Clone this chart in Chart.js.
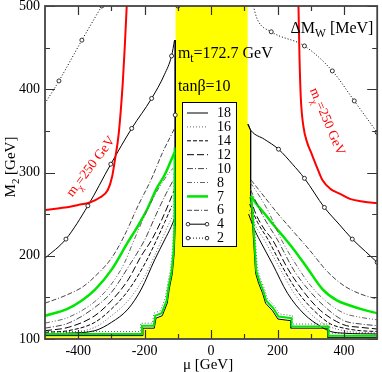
<!DOCTYPE html>
<html><head><meta charset="utf-8">
<script src="https://cdn.jsdelivr.net/npm/chart.js@4/dist/chart.umd.min.js"></script>
<style>html,body{margin:0;padding:0;background:#fff}canvas{display:block}</style>
</head><body>
<canvas id="c" width="382" height="372"></canvas>
<script>
// ---- tick values ----
const xMajor = [-400, -200, 0, 200, 400];
const xMinor = [-300, -100, 100, 300];
const yMajor = [100, 200, 300, 400, 500];
const yMinor = [150, 250, 350, 450];

// ---- excluded (yellow) region upper boundary [mu, M2] ----
const excluded = [[-500,103],[-205,103],[-205,113],[-170,113],[-165,125],[-146,128],[-131,143],[-125,160],[-116,178],[-110,203],[-107,236],[-107,500],[110,500],[110,360],[117,350],[118,270],[124,236],[133,179],[142,167],[154,155],[163,143],[184,134],[200,124],[239,122],[239,112],[350,112],[350,101],[500,101]];
// contour pieces hugging the excluded region
const edgeLeft = [[-500,106],[-208,106],[-208,116],[-173,116],[-168,128],[-149,131],[-134,146],[-128,163],[-119,181],[-113,206],[-110,239],[-110,330]];
const edgeRight = [[121,272],[127,239],[136,182],[145,170],[157,158],[166,146],[187,137],[203,127],[242,125],[242,115],[353,115],[353,104],[500,104]];
const edgeLeftOuter = [[-500,109],[-212,109],[-212,119],[-177,119],[-172,131],[-153,134],[-138,149],[-131,166],[-122,184],[-116,209],[-112,242],[-112,300]];
const edgeRightOuter = [[124,262],[130,239],[139,185],[148,173],[160,161],[169,149],[190,140],[206,130],[245,128],[245,118],[356,118],[356,107],[500,107]];
const edgeBlackLeft = [[-108,459],[-108,236],[-111,203],[-117,178],[-126,160],[-132,143],[-147,128],[-166,125],[-171,113],[-206,113],[-206,104],[-500,104]];
const edgeBlackRight = [[112,358],[119,350],[119,270],[125,236],[134,179],[143,167],[155,155],[164,143],[185,134],[201,124],[240,122],[240,113],[351,113],[351,102],[500,102]];

// ---- Delta M_W contours [mu, M2] ----
const c18L = [[-500,106],[-430,107],[-350,110],[-300,120],[-250,136],[-210,160],[-170,195],[-140,219],[-120,235],[-110,245]];
const c18R = [[113,250],[130,232],[146,219],[185,190],[230,155],[280,130],[330,115],[360,109],[400,107],[500,106]];
const c16L = [[-500,107],[-430,108],[-350,114],[-300,128],[-250,146],[-200,175],[-170,200],[-149,219],[-125,240],[-112,250]];
const c16R = [[115,255],[135,235],[160,219],[200,190],[250,155],[300,130],[350,116],[400,110],[450,108],[500,107]];
const c14L = [[-500,108],[-430,110],[-350,120],[-300,136],[-250,158],[-200,190],[-164,219],[-140,240],[-118,260]];
const c14R = [[116,262],[140,240],[172,219],[210,190],[260,157],[310,134],[360,118],[400,113],[450,110],[500,109]];
const c12L = [[-500,110],[-430,114],[-350,128],[-300,146],[-250,171],[-210,200],[-179,219],[-150,242],[-125,265],[-112,278]];
const c12R = [[117,270],[135,250],[160,232],[185,219],[230,185],[280,156],[330,134],[400,117],[450,114],[500,112]];
const c10L = [[-500,113],[-430,119],[-350,138],[-300,156],[-250,186],[-200,219],[-165,250],[-135,275],[-115,290]];
const c10R = [[118,280],[135,265],[160,245],[200,219],[250,182],[300,156],[350,136],[400,122],[450,118],[500,116]];
const c8L = [[-500,119],[-430,126],[-350,145],[-300,166],[-260,192],[-236,215],[-200,248],[-165,276],[-135,295],[-115,305]];
const c8R = [[118,288],[140,275],[170,255],[212,219],[250,193],[300,164],[350,144],[400,131],[450,126],[500,123]];
const c7L = [[-500,128],[-434,136],[-390,146],[-350,159],[-300,183],[-251,216],[-220,236],[-191,257],[-165,280],[-140,297],[-120,315],[-110,324]];
const c7R = [[120,272],[135,263],[160,251],[190,236],[226,219],[250,207],[290,185],[335,160],[380,146],[420,140],[460,135],[500,131]];
const c6L = [[-500,143],[-434,153],[-385,163],[-350,175],[-300,197],[-260,225],[-220,260],[-180,292],[-145,325],[-120,345],[-110,353]];
const c6R = [[120,291],[150,276],[200,251],[250,228],[296,207],[350,181],[400,164],[450,154],[500,148]];
const c4L = [[-500,197],[-437,220],[-371,260],[-302,310],[-239,353],[-179,389],[-140,418],[-119,440],[-110,459]];
const c4R = [[110,358],[121,350],[160,340],[203,328],[245,310],[281,293],[341,258],[385,238],[425,220],[465,205],[500,192]];
const c2L = [[-500,383],[-458,410],[-389,459],[-329,500]];
const c2R = [[127,500],[139,484],[181,469],[281,452],[365,422],[431,386],[500,348]];
const marks4 = [[-437,220],[-371,260],[-302,310],[-239,353],[-179,389],[-119,440],[-108,369],[203,328],[281,293],[341,258],[425,220],[500,192]];
const marks2 = [[-458,410],[-389,459],[-329,500],[-100,500],[181,469],[281,452],[365,422],[431,386],[500,348]];

// ---- chargino mass 250 GeV contour ----
const mchiL = [[-500,255],[-440,258],[-400,261],[-365,264],[-335,270],[-311,279],[-298,295],[-290,314],[-278,347],[-266,407],[-260,450],[-254,500]];
const mchiR = [[263,500],[266,440],[270,390],[278,355],[290,335],[300,325],[320,305],[335,291],[360,280],[385,275],[420,268],[460,265],[500,263]];

const legendLabels = ['18','16','14','12','10','8','7','6','4','2'];

const FONT = "'Liberation Serif','Times New Roman',serif";
const styles = {
  '18': {color:'#000', width:1, dash:[]},
  '16': {color:'#666', width:1, dash:[1,2]},
  '14': {color:'#000', width:1, dash:[4,2]},
  '12': {color:'#000', width:1, dash:[7,3]},
  '10': {color:'#444', width:1, dash:[6,2,1,2]},
  '8':  {color:'#666', width:1, dash:[5,2,1,2,1,2]},
  '7':  {color:'#00e600', width:2.5, dash:[]},
  '6':  {color:'#444', width:1, dash:[5,2,5,2,1,2]},
  '4':  {color:'#000', width:1, dash:[], mark:true},
  '2':  {color:'#000', width:1, dash:[1,2], mark:true}
};

const pts = a => a.map(p => ({x:p[0], y:p[1]}));
const join = (...parts) => { const out=[]; parts.forEach((p,i)=>{ if(i) out.push({x:0,y:null}); out.push(...pts(p)); }); return out; };

function lineDS(key, data, extra) {
  const s = styles[key];
  return Object.assign({label:key, data, borderColor:s.color, borderWidth:s.width, borderDash:s.dash,
    pointRadius:0, showLine:true, fill:false, cubicInterpolationMode:'monotone', order:1}, extra||{});
}

const datasets = [
  {label:'excluded', data:pts(excluded), borderWidth:0, borderColor:'rgba(0,0,0,0)', backgroundColor:'#ffff00', fill:'start', pointRadius:0, showLine:true, tension:0, order:10},
  lineDS('16', join(edgeLeftOuter, edgeRightOuter), {cubicInterpolationMode:'default', tension:0, order:2}),
  lineDS('18', join(edgeBlackLeft, edgeBlackRight), {cubicInterpolationMode:'default', tension:0, order:2}),
  lineDS('7', join(edgeLeft, edgeRight), {cubicInterpolationMode:'default', tension:0, borderWidth:2, order:1}),
  lineDS('18', join(c18L, c18R)),
  lineDS('16', join(c16L, c16R)),
  lineDS('14', join(c14L, c14R)),
  lineDS('12', join(c12L, c12R)),
  lineDS('10', join(c10L, c10R)),
  lineDS('8', join(c8L, c8R)),
  lineDS('7', join(c7L, c7R)),
  lineDS('6', join(c6L, c6R)),
  lineDS('4', join(c4L, c4R)),
  lineDS('2', join(c2L, c2R)),
  {label:'m4', data:pts(marks4), showLine:false, pointRadius:2, pointBorderWidth:0.8, pointBorderColor:'#000', pointBackgroundColor:'#fff', order:0},
  {label:'m2', data:pts(marks2), showLine:false, pointRadius:2, pointBorderWidth:0.8, pointBorderColor:'#000', pointBackgroundColor:'#fff', order:0},
  {label:'mchi', data:join(mchiL, mchiR), borderColor:'#ff0000', borderWidth:2, pointRadius:0, showLine:true, fill:false, cubicInterpolationMode:'monotone', order:0}
];

function drawSub(ctx, x, y, main, sub, rest, size) {
  ctx.font = size + 'px ' + FONT;
  ctx.fillText(main, x, y); x += ctx.measureText(main).width;
  ctx.font = (size*0.72) + 'px ' + FONT;
  ctx.fillText(sub, x, y + size*0.28); x += ctx.measureText(sub).width;
  ctx.font = size + 'px ' + FONT;
  ctx.fillText(rest, x, y); x += ctx.measureText(rest).width;
  return x;
}
function subWidth(ctx, main, sub, rest, size) {
  ctx.font = size + 'px ' + FONT; let w = ctx.measureText(main).width + ctx.measureText(rest).width;
  ctx.font = (size*0.72) + 'px ' + FONT; w += ctx.measureText(sub).width; return w;
}

const decor = {
  id:'decor',
  afterDatasetsDraw(chart) {
    const ctx = chart.ctx, xs = chart.scales.x, ys = chart.scales.y;
    ctx.save();
    // red labels
    ctx.fillStyle = '#ff0000'; ctx.textBaseline = 'alphabetic'; ctx.textAlign = 'left';
    ctx.save(); ctx.translate(xs.getPixelForValue(-418), ys.getPixelForValue(270)); ctx.rotate(-53*Math.PI/180);
    drawSub(ctx, 0, 0, 'm', 'χ', '=250 GeV', 13.5); ctx.restore();
    ctx.save(); ctx.translate(xs.getPixelForValue(297), ys.getPixelForValue(399)); ctx.rotate(67*Math.PI/180);
    drawSub(ctx, 0, 0, 'm', 'χ', '=250 GeV', 13.5); ctx.restore();
    // annotations
    ctx.fillStyle = '#000';
    drawSub(ctx, xs.getPixelForValue(-100), ys.getPixelForValue(438), 'm', 't', '=172.7 GeV', 16);
    ctx.font = '16px ' + FONT; ctx.fillText('tanβ=10', xs.getPixelForValue(-100), ys.getPixelForValue(398));
    drawSub(ctx, xs.getPixelForValue(239), ys.getPixelForValue(468), 'ΔM', 'W', ' [MeV]', 16);

    // legend box
    const lx = 182, ly = 102, lw = 54, lh = 144;
    ctx.fillStyle = '#fff'; ctx.fillRect(lx, ly, lw, lh);
    ctx.strokeStyle = '#000'; ctx.lineWidth = 1; ctx.strokeRect(lx+0.5, ly+0.5, lw, lh);
    legendLabels.forEach((k, i) => {
      const s = styles[k], y = ly + 11 + i*13.9;
      ctx.strokeStyle = s.color; ctx.lineWidth = s.width; ctx.setLineDash(s.dash);
      ctx.beginPath(); ctx.moveTo(lx+5, y); ctx.lineTo(lx+26, y); ctx.stroke(); ctx.setLineDash([]);
      if (s.mark) { [lx+6, lx+25].forEach(cx => { ctx.beginPath(); ctx.arc(cx, y, 1.8, 0, 2*Math.PI); ctx.fillStyle='#fff'; ctx.fill(); ctx.lineWidth=0.8; ctx.strokeStyle='#000'; ctx.stroke(); }); }
      ctx.fillStyle = '#000'; ctx.font = '14px ' + FONT; ctx.textBaseline = 'middle';
      ctx.fillText(k, lx+35, y+0.5);
    });
    ctx.restore();
  },
  afterDraw(chart) {
    const ctx = chart.ctx, xs = chart.scales.x, ys = chart.scales.y, a = chart.chartArea;
    ctx.save();
    ctx.strokeStyle = '#333'; ctx.lineWidth = 1.2; ctx.setLineDash([]);
    ctx.beginPath();
    const tick = (vals, len, isX) => vals.forEach(v => {
      if (isX) { const px = Math.round(xs.getPixelForValue(v))+0.5;
        ctx.moveTo(px, a.bottom); ctx.lineTo(px, a.bottom-len); ctx.moveTo(px, a.top); ctx.lineTo(px, a.top+len); }
      else { const py = Math.round(ys.getPixelForValue(v))+0.5;
        ctx.moveTo(a.left, py); ctx.lineTo(a.left+len, py); ctx.moveTo(a.right, py); ctx.lineTo(a.right-len, py); }
    });
    tick(xMajor, 9, true); tick(xMinor, 5, true); tick(yMajor, 10, false); tick(yMinor, 5, false);
    ctx.stroke();
    ctx.lineWidth = 1.8; ctx.strokeStyle = '#444';
    ctx.strokeRect(a.left, a.top, a.right-a.left, a.bottom-a.top);
    // axis titles
    ctx.fillStyle = '#000'; ctx.textBaseline = 'alphabetic'; ctx.textAlign = 'left';
    ctx.font = '15px ' + FONT;
    const t = 'μ [GeV]'; const tw = ctx.measureText(t).width;
    ctx.fillText(t, (a.left+a.right)/2 - tw/2 - 3, 369);
    ctx.save(); ctx.translate(15, 0); ctx.rotate(-Math.PI/2);
    const w2 = subWidth(ctx, 'M', '2', ' [GeV]', 15);
    drawSub(ctx, -167 - w2/2, 0, 'M', '2', ' [GeV]', 15);
    ctx.restore();
    ctx.restore();
  }
};

new Chart(document.getElementById('c'), {
  type: 'scatter',
  data: {datasets},
  options: {
    responsive:false, animation:false, devicePixelRatio:1,
    layout:{padding:{top:6, right:4, left:0, bottom:0}},
    plugins:{legend:{display:false}, tooltip:{enabled:false}},
    scales:{
      x:{type:'linear', min:-500, max:500,
        afterBuildTicks:s=>{s.ticks = xMajor.map(v=>({value:v}));},
        afterFit:s=>{s.height = 33; s.paddingLeft = 0; s.paddingRight = 0;},
        grid:{display:false, drawTicks:false}, border:{display:false},
        ticks:{color:'#000', font:{family:FONT, size:14}, padding:4, maxRotation:0, autoSkip:false}},
      y:{type:'linear', min:100, max:500,
        afterBuildTicks:s=>{s.ticks = yMajor.map(v=>({value:v}));},
        afterFit:s=>{s.width = 45; s.paddingTop = 0; s.paddingBottom = 0;},
        grid:{display:false, drawTicks:false}, border:{display:false},
        ticks:{color:'#000', font:{family:FONT, size:14}, padding:5, autoSkip:false}}
    }
  },
  plugins:[decor]
});
</script>
</body></html>
